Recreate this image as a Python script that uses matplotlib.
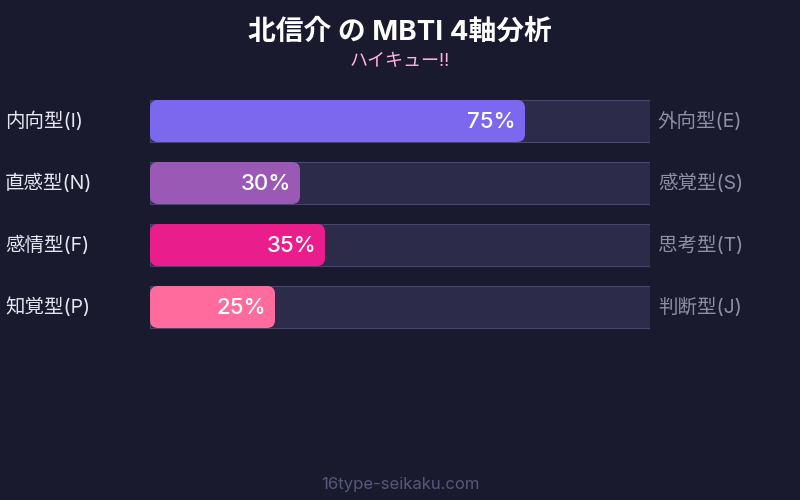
import matplotlib.pyplot as plt
from matplotlib.patches import FancyBboxPatch, Rectangle

plt.rcParams['font.family'] = ['Inter', 'Noto Sans CJK JP', 'DejaVu Sans']

left_labels = ['内向型(I)', '直感型(N)', '感情型(F)', '知覚型(P)']
right_labels = ['外向型(E)', '感覚型(S)', '思考型(T)', '判断型(J)']
values = [75, 30, 35, 25]
colors = ['#7b68ee', '#9b59b6', '#e91e8c', '#ff6b9d']

bg = '#1a1a2e'
fig = plt.figure(figsize=(8, 5), dpi=100, facecolor=bg)

# axes covers the track area: 150..650 px wide, 4 rows of 62 px
ax = fig.add_axes([150/800, (500-338)/500, 500/800, 248/500])
ax.set_xlim(0, 100)
ax.set_ylim(3.5, -0.5)
ax.axis('off')

h = 42/62
r = 1.6  # corner radius in percent units (8 px)
asp = (8/62) / r
for i, v in enumerate(values):
    ax.add_patch(Rectangle((0, i - h/2), 100, h, facecolor='#2d2b4a',
                           edgecolor='#48466a', linewidth=0.8))
    ax.add_patch(FancyBboxPatch((0, i - h/2), v, h,
                                boxstyle=f'round,pad=0,rounding_size={r}',
                                mutation_aspect=asp, facecolor=colors[i],
                                edgecolor='none'))
    ax.text(v - 1.8, i + 0.02, f'{v}%', ha='right', va='center',
            color='white', fontsize=16, fontweight='medium')
    ax.text(-29, i, left_labels[i], ha='left', va='center',
            color='#e6e6f0', fontsize=14)
    ax.text(101.6, i, right_labels[i], ha='left', va='center',
            color='#8e8ea6', fontsize=14)

fig.text(0.5, 1 - 33/500, '北信介 の MBTI 4軸分析', ha='center', va='center',
         color='white', fontsize=20, fontweight='bold')
fig.text(0.5, 1 - 62/500, 'ハイキュー!!', ha='center', va='center',
         color='#ffb3e0', fontsize=13)
fig.text(0.5, 1 - 484/500, '16type-seikaku.com', ha='center', va='center',
         color='#55587a', fontsize=12)

fig.savefig('out.png', dpi=100, facecolor=bg)
